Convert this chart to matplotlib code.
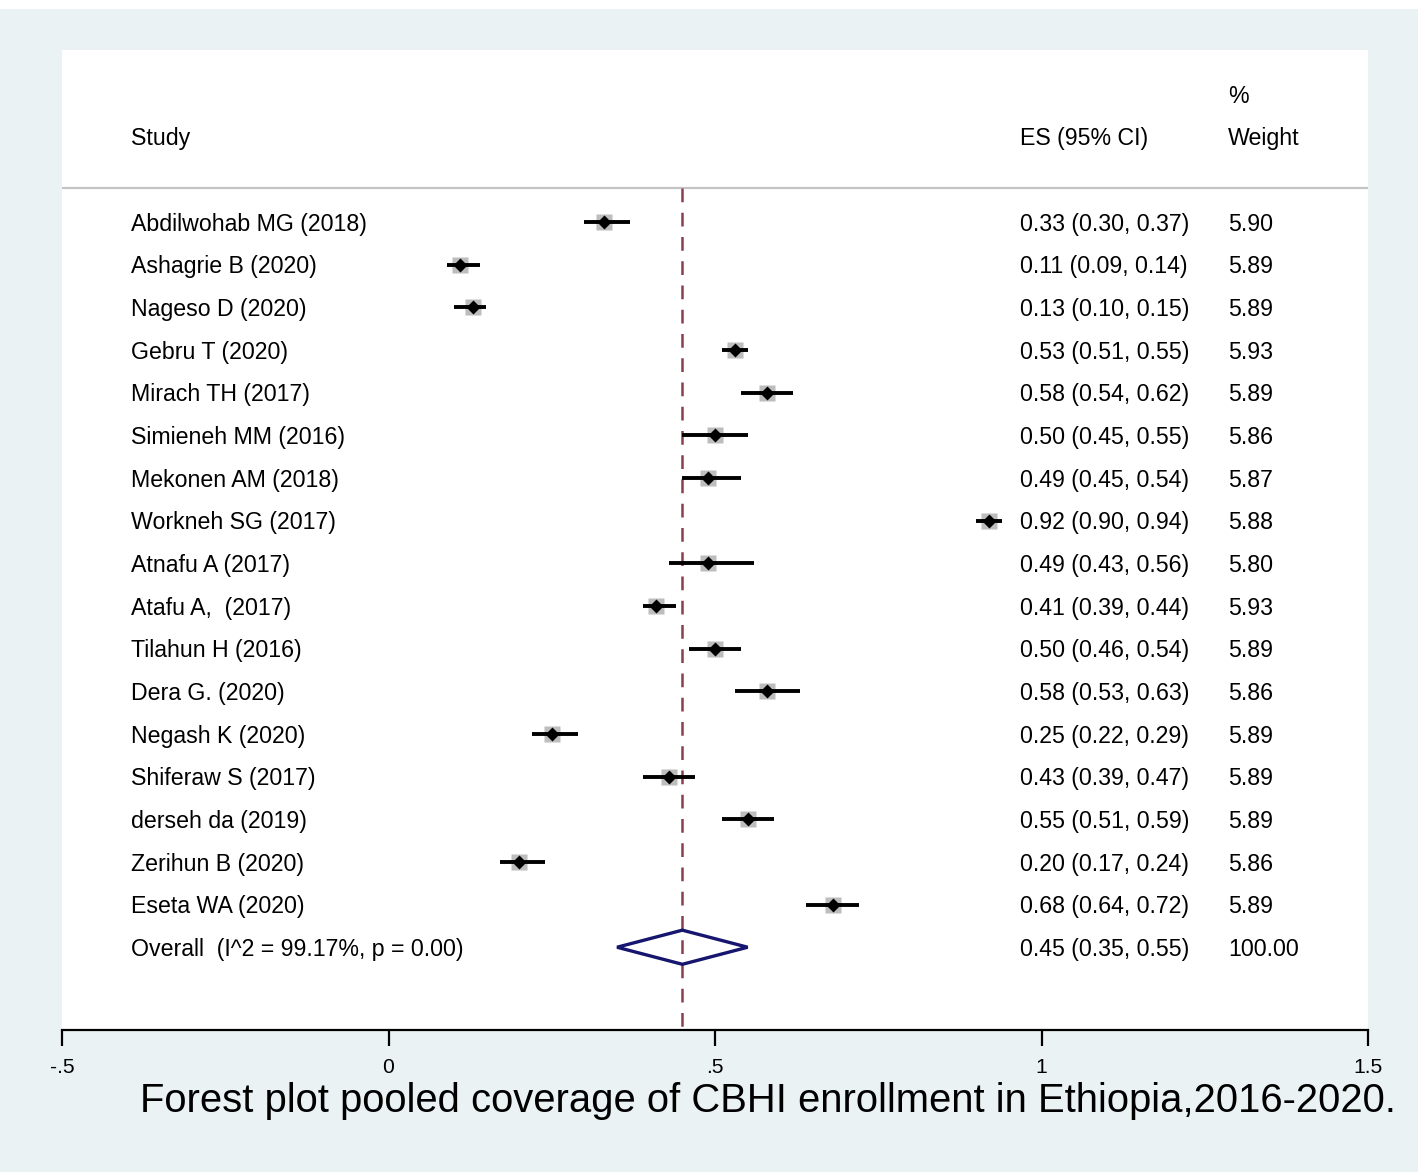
import matplotlib
matplotlib.use("Agg")
import matplotlib.pyplot as plt
from matplotlib.patches import Rectangle, Polygon
from matplotlib.transforms import blended_transform_factory

plt.rcParams['font.family'] = ['Liberation Sans', 'DejaVu Sans']

studies = ["Abdilwohab MG (2018)", "Ashagrie B (2020)", "Nageso D (2020)", "Gebru T (2020)",
           "Mirach TH (2017)", "Simieneh MM (2016)", "Mekonen AM (2018)", "Workneh SG (2017)",
           "Atnafu A (2017)", "Atafu A,  (2017)", "Tilahun H (2016)", "Dera G. (2020)",
           "Negash K (2020)", "Shiferaw S (2017)", "derseh da (2019)", "Zerihun B (2020)",
           "Eseta WA (2020)"]
es = [0.33, 0.11, 0.13, 0.53, 0.58, 0.50, 0.49, 0.92, 0.49, 0.41, 0.50, 0.58, 0.25, 0.43, 0.55, 0.20, 0.68]
lo = [0.30, 0.09, 0.10, 0.51, 0.54, 0.45, 0.45, 0.90, 0.43, 0.39, 0.46, 0.53, 0.22, 0.39, 0.51, 0.17, 0.64]
hi = [0.37, 0.14, 0.15, 0.55, 0.62, 0.55, 0.54, 0.94, 0.56, 0.44, 0.54, 0.63, 0.29, 0.47, 0.59, 0.24, 0.72]
weights = [5.90, 5.89, 5.89, 5.93, 5.89, 5.86, 5.87, 5.88, 5.80, 5.93, 5.89, 5.86, 5.89, 5.89, 5.89, 5.86, 5.89]
overall_label = "Overall  (I^2 = 99.17%, p = 0.00)"
overall_es, overall_lo, overall_hi, overall_w = 0.45, 0.35, 0.55, 100.00
xticks = [-0.5, 0, 0.5, 1, 1.5]
xticklabels = ["-.5", "0", ".5", "1", "1.5"]
title = "Forest plot pooled coverage of CBHI enrollment in Ethiopia,2016-2020."

W, H = 1424, 1172
fig = plt.figure(figsize=(W / 100, H / 100), dpi=100, facecolor="white")
bg = "#EAF2F3"
fig.patches.append(Rectangle((0, 0), 1418 / W, 1 - 9 / H, transform=fig.transFigure,
                             facecolor=bg, edgecolor="none", zorder=-10))

L, R, T, B = 62, 1368, 50, 1030
ax = fig.add_axes([L / W, 1 - B / H, (R - L) / W, (B - T) / H])
ax.set_zorder(1)
ax.set_facecolor("white")
ax.set_xlim(-0.5, 1.5)
n = len(studies)
ax.set_ylim(18.94, -4.03)
for s in ["top", "left", "right"]:
    ax.spines[s].set_visible(False)
ax.spines["bottom"].set_linewidth(1.6)
ax.set_yticks([])
ax.set_xticks(xticks)
ax.set_xticklabels(xticklabels, fontsize=15.2)
ax.tick_params(axis="x", length=11.5, width=1.6, pad=9)

tr = blended_transform_factory(ax.transAxes, ax.transData)
fs = 16.7
dy = 0.05  # small downward offset of text relative to marks
# header
ax.text(0.0529, -2 + dy, "Study", transform=tr, fontsize=fs, va="center", ha="left")
ax.text(0.7335, -2 + dy, "ES (95% CI)", transform=tr, fontsize=fs, va="center", ha="left")
ax.text(0.8928, -2 + dy, "Weight", transform=tr, fontsize=fs, va="center", ha="left")
ax.text(0.8928, -3 + dy, "%", transform=tr, fontsize=fs, va="center", ha="left")
ax.axhline(-0.8, color="#C4C4C4", lw=1.6)

# dashed overall line
ax.plot([overall_es, overall_es], [-0.8, 18.94], color="#8A3F4D", lw=1.8,
        dashes=(5.5, 4.2), zorder=2)

for i in range(n):
    ax.plot([lo[i], hi[i]], [i, i], color="black", lw=2.8, zorder=3, solid_capstyle="butt")
    ax.plot(es[i], i, marker="s", ms=11.8, color="#BDBDBD", mec="none", zorder=2.5)
    ax.plot(es[i], i, marker="D", ms=7, color="black", mec="none", zorder=4)
    ax.text(0.0529, i + dy, studies[i], transform=tr, fontsize=fs, va="center", ha="left")
    ax.text(0.7335, i + dy, f"{es[i]:.2f} ({lo[i]:.2f}, {hi[i]:.2f})", transform=tr,
            fontsize=fs, va="center", ha="left")
    ax.text(0.8928, i + dy, f"{weights[i]:.2f}", transform=tr, fontsize=fs, va="center", ha="left")

yo = n
dia = Polygon([[overall_lo, yo], [overall_es, yo - 0.4], [overall_hi, yo], [overall_es, yo + 0.4]],
              closed=True, facecolor="none", edgecolor="#16166E", lw=2.4, zorder=3)
ax.add_patch(dia)
ax.text(0.0529, yo + dy, overall_label, transform=tr, fontsize=fs, va="center", ha="left")
ax.text(0.7335, yo + dy, f"{overall_es:.2f} ({overall_lo:.2f}, {overall_hi:.2f})", transform=tr,
        fontsize=fs, va="center", ha="left")
ax.text(0.8928, yo + dy, f"{overall_w:.2f}", transform=tr, fontsize=fs, va="center", ha="left")

fig.text(768 / W, 1 - 1101 / H, title, fontsize=28.8, ha="center", va="center", zorder=5)

fig.savefig("out.png", dpi=100, facecolor=fig.get_facecolor())
